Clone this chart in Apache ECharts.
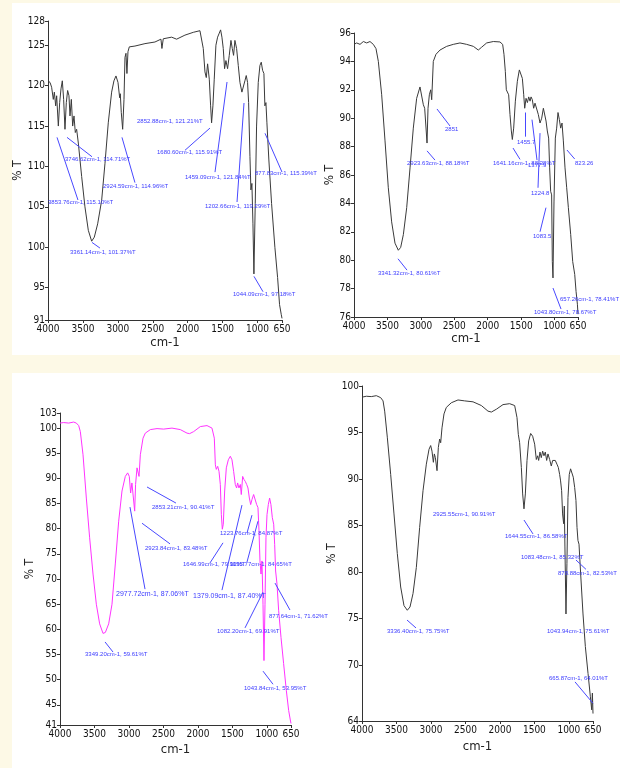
<!DOCTYPE html>
<html>
<head>
<meta charset="utf-8">
<script src="https://cdn.jsdelivr.net/npm/echarts@6/dist/echarts.min.js"></script>
<style>
  html, body { margin: 0; padding: 0; background: #fdf9e6; }
  .paper { position: absolute; background: #fff; }
  #main { position: absolute; left: 0; top: 0; width: 620px; height: 768px; }
</style>
</head>
<body>
<div class="paper" style="left:12px;top:3px;width:608px;height:352px"></div>
<div class="paper" style="left:12px;top:373px;width:608px;height:395px"></div>
<div id="main"></div>
<script>
// spectrum 1 (top left)
var p1Wave = [4000,3971,3948,3924,3909,3890,3876,3852,3833,3814,3795,3776,3757,3738,3719,3700,3685,3666,3647,3628,3609,3590,3566,3518,3471,3423,3375,3337,3289,3232,3184,3137,3089,3056,3027,2998,2974,2965,2951,2931,2912,2898,2884,2870,2855,2836,2755,2612,2469,2383,2369,2350,2230,2159,2040,1920,1825,1801,1777,1753,1734,1715,1691,1672,1658,1639,1620,1596,1572,1548,1529,1510,1491,1472,1453,1429,1405,1381,1362,1343,1324,1300,1276,1252,1224,1200,1181,1162,1143,1128,1109,1095,1081,1066,1052,1033,1014,990,966,947,928,909,895,880,866,838,799,752,713,685,661,650];
var p1T = [120.6,120.4,119.8,118.3,119.2,117.5,118.75,115,117.9,119.6,120.6,118.3,114.6,117.9,119.4,118.75,116.25,118.3,115,116.25,114.2,114.6,112.9,108.75,105,102.1,100.75,101.25,102.9,105.8,110.4,115.4,119.2,120.6,121.2,120.4,118.5,119,116.7,114.6,118.3,123.5,124,121.5,124.2,124.8,124.9,125.2,125.4,125.75,124.6,125.8,126,125.75,126.25,126.6,126.8,126.7,124.6,121.7,121,122.7,120.8,117.5,115.4,117.5,120.8,125,126,126.5,126.9,126,124.6,122.1,123.1,122.1,123.75,125.6,124.6,123.75,125.6,124.6,122.5,120.4,119.2,119.4,120.6,121.25,120.4,117.9,111.25,107.1,107.9,102.9,96.7,105.4,115,120.4,122.5,122.9,121.9,121.5,117.5,117.9,115.4,110.8,105.4,100,96.25,92.9,91.7,91.2];
var p1Ticks = [91,95,100,105,110,115,120,125,128];

// spectrum 2 (top right)
var p2Wave = [4000,3960,3910,3860,3810,3761,3711,3671,3636,3586,3536,3487,3437,3387,3337,3302,3262,3212,3162,3113,3063,3013,2988,2963,2943,2923,2908,2893,2873,2853,2838,2814,2774,2714,2614,2515,2415,2315,2215,2141,2091,2016,1916,1817,1777,1757,1737,1722,1707,1687,1667,1647,1632,1612,1587,1557,1527,1502,1482,1462,1447,1427,1407,1387,1367,1352,1333,1313,1293,1268,1243,1218,1193,1168,1143,1128,1109,1089,1074,1059,1044,1034,1024,1009,989,969,949,929,909,889,869,844,819,794,759,729,699,679,659,650];
var p2T = [95.2,95.3,95.2,95.4,95.3,95.4,95.2,94.9,94,91.65,88.4,85.1,82.7,81.2,80.7,80.9,81.8,83.7,86.5,89.3,91.4,92.2,92.1,90.95,90.7,90.8,88.25,90.7,91.65,92,91.3,94,94.5,94.8,95.06,95.2,95.3,95.2,95.06,94.8,95,95.3,95.4,95.37,95.2,94.5,93.3,92,92.1,91.65,90.25,89.1,88.5,89.3,91.2,92.6,93.4,93.5,92.8,91.65,90.7,91.4,91.1,91.5,91.2,91.5,91.3,90.7,91.06,90.95,90.25,89.66,90,90.7,90.7,89.8,89.1,88.6,86.5,84.85,84.6,79.9,78.75,84.1,88.6,89.3,90.4,89.9,89.3,89.66,88.4,86.5,85.1,83.7,81.8,79.9,79,77.8,76.9,76.2];
var p2Ticks = [76,78,80,82,84,86,88,90,92,94,96];

// spectrum 3 (bottom left, magenta)
var p3Wave = [4000,3947,3874,3802,3763,3729,3705,3666,3618,3570,3521,3473,3425,3376,3342,3294,3246,3198,3149,3101,3053,3019,2995,2976,2957,2938,2917,2904,2883,2869,2854,2835,2796,2763,2690,2593,2497,2376,2255,2158,2120,2062,1965,1868,1796,1762,1747,1733,1713,1694,1675,1660,1646,1632,1612,1588,1559,1530,1506,1482,1458,1439,1424,1405,1385,1371,1351,1332,1313,1293,1274,1254,1235,1216,1192,1168,1148,1129,1114,1100,1085,1071,1056,1042,1027,1013,998,979,960,941,921,901,887,873,853,829,795,757,718,684,660,650];
var p3T = [101,101.1,101,101.2,101,100.5,99.3,94.7,86.1,78.2,71,65,61.1,59.2,59.4,61.1,65,73,81.5,87.5,90.4,91.1,90.4,87.1,89.1,88.8,83.5,88.8,92.1,92.4,90.4,94.7,98,99,99.7,99.9,99.8,100,99.7,99,98.9,99.3,100.3,100.5,100,98,92.7,91.8,92.4,91.4,88.8,82.8,79.9,80.9,87.5,92.1,93.7,94.4,93.7,91.4,88.8,88.1,89.1,88.1,88.8,86.8,90.4,89.8,89.4,88.8,88.1,86.1,84.8,85.8,86.8,86.5,84.8,84.2,79.6,73.6,71,73.6,65,53.8,65,78.2,82.8,84.8,86.1,84.8,82.2,80.9,76.9,71.6,69,63.7,58.4,53.2,47.9,43.9,42,41.3];
var p3Ticks = [41,45,50,55,60,65,70,75,80,85,90,95,100,103];

// spectrum 4 (bottom right)
var p4Wave = [4000,3937,3865,3792,3729,3695,3671,3633,3584,3536,3488,3439,3391,3343,3304,3260,3212,3164,3115,3067,3028,3004,2985,2965,2951,2936,2912,2893,2874,2859,2840,2811,2777,2705,2608,2511,2390,2269,2173,2124,2052,1955,1859,1786,1752,1733,1714,1689,1670,1651,1631,1607,1583,1554,1525,1496,1472,1453,1438,1419,1400,1380,1361,1342,1322,1303,1279,1255,1235,1216,1197,1173,1153,1134,1120,1105,1091,1076,1066,1057,1042,1028,1013,994,975,955,936,916,897,882,868,853,829,795,761,722,688,669,659,650];
var p4T = [98.8,98.9,98.86,98.96,98.75,98.4,97.3,94.5,90.5,86.25,82,78.4,76.4,75.9,76.25,77.7,80.5,84.8,88.75,91.6,93.2,93.6,93,91.8,92.7,92.3,90.9,93.4,94.3,93.9,95.5,97,97.7,98.2,98.5,98.4,98.3,97.9,97.3,97.2,97.5,98,98.1,97.9,96.6,94.8,93.9,91.25,88.4,86.8,88.4,92,94.1,94.9,94.6,93.75,92.1,92.5,92,92.9,92.3,93,92.5,92.9,92,92.7,92.1,91.4,92,92.1,92,91.6,91.25,90.5,89.8,88.75,86.25,85.2,87.1,82.7,75.5,80.9,88,90.5,91.1,90.9,90.2,89.1,87.7,84.8,83.4,83,79.8,75.5,72,69.1,66.6,65.2,67,64.8];
var p4Ticks = [64,65,70,75,80,85,90,95,100];

var waveTicks = [4000,3500,3000,2500,2000,1500,1000,650];

// peak notes: text, anchor, leader line
var p1Notes = [
  {t: '3853.76cm-1, 115.10%T', at: [4000, 105.5], from: [3871, 113.6], to: [3571, 105.85]},
  {t: '3746.62cm-1, 114.71%T', at: [3757, 110.9], from: [3728, 113.6], to: [3370, 111.2]},
  {t: '2924.59cm-1, 114.96%T', at: [3213, 107.5], from: [2941, 113.6], to: [2755, 108]},
  {t: '3361.14cm-1, 101.37%T', at: [3685, 99.4], from: [3370, 100.6], to: [3256, 99.9]},
  {t: '2852.88cm-1, 121.21%T', at: [2726, 115.6]},
  {t: '1680.60cm-1, 115.91%T', at: [2440, 111.8], from: [1681, 114.75], to: [2039, 112]},
  {t: '1459.09cm-1, 121.84%T', at: [2039, 108.6], from: [1437, 120.45], to: [1609, 109.3]},
  {t: '1202.66cm-1, 119.29%T', at: [1752, 105.1], from: [1194, 117.85], to: [1294, 105.6]},
  {t: '877.83cm-1, 115.39%T', at: [1037, 109.2], from: [893, 114.1], to: [650, 109.3]},
  {t: '1044.09cm-1, 97.18%T', at: [1352, 94.2], from: [1051, 96.4], to: [922, 94.5]}
];
var p2Notes = [
  {t: '2923.63cm-1, 88.18%T', at: [3207, 86.85], from: [2908, 87.7], to: [2789, 87.05]},
  {t: '2851', at: [2639, 89.24], from: [2759, 90.65], to: [2564, 89.45]},
  {t: '3341.32cm-1, 80.61%T', at: [3641, 79.1], from: [3342, 80.1], to: [3207, 79.3]},
  {t: '1641.16cm-1, 88.38%T', at: [1921, 86.85], from: [1622, 87.9], to: [1517, 87.1]},
  {t: '1455.7', at: [1562, 88.3], from: [1443, 90.4], to: [1443, 88.7]},
  {t: '1377.9', at: [1398, 86.7], from: [1338, 89.9], to: [1263, 87.05]},
  {t: '1224.8', at: [1353, 84.7], from: [1218, 88.95], to: [1248, 85.1]},
  {t: '1083.5', at: [1323, 81.7], from: [1129, 83.7], to: [1218, 82]},
  {t: '1043.80cm-1, 78.67%T', at: [1308, 76.3], from: [1024, 78.04], to: [904, 76.56]},
  {t: '657.26cm-1, 78.41%T', at: [919, 77.27]},
  {t: '823.26', at: [695, 86.85], from: [815, 87.76], to: [700, 87.13]}
];
var p3Notes = [
  {t: '2853.21cm-1, 90.41%T', at: [2666, 84.3], from: [2738, 88.3], to: [2318, 85.1]},
  {t: '2923.84cm-1, 83.48%T', at: [2767, 76.2], from: [2811, 81.1], to: [2405, 77]},
  {t: '2977.72cm-1, 87.06%T', at: [3188, 67.0], from: [2985, 84.3], to: [2767, 68], big: true},
  {t: '3349.20cm-1, 59.61%T', at: [3637, 55.1], from: [3347, 57.5], to: [3231, 55.5]},
  {t: '1646.99cm-1, 79.90%T', at: [2216, 73], from: [1636, 77.2], to: [1825, 73.2]},
  {t: '1223.76cm-1, 84.87%T', at: [1680, 79], from: [1216, 82.7], to: [1288, 79.15]},
  {t: '1379.09cm-1, 87.40%T', at: [2071, 66.6], from: [1361, 84.7], to: [1651, 67.8], big: true},
  {t: '1155.77cm-1, 84.65%T', at: [1535, 73], from: [1129, 81.5], to: [1288, 73.4]},
  {t: '1082.20cm-1, 69.91%T', at: [1723, 59.7], from: [1056, 67.4], to: [1317, 60.3]},
  {t: '877.64cm-1, 71.62%T', at: [969, 62.65], from: [882, 69.2], to: [665, 63.85]},
  {t: '1043.84cm-1, 53.95%T', at: [1332, 48.35], from: [1056, 51.7], to: [911, 49.1]}
];
var p4Notes = [
  {t: '2925.55cm-1, 90.91%T', at: [2970, 86.25]},
  {t: '1644.55cm-1, 86.58%T', at: [1926, 83.8], from: [1651, 85.6], to: [1520, 84.1]},
  {t: '1083.48cm-1, 85.32%T', at: [1694, 81.6]},
  {t: '878.88cm-1, 82.53%T', at: [1158, 79.9], from: [897, 81.3], to: [752, 80.3]},
  {t: '3336.40cm-1, 75.75%T', at: [3637, 73.6], from: [3347, 74.85], to: [3217, 74]},
  {t: '1043.94cm-1, 75.61%T', at: [1317, 73.6]},
  {t: '665.87cm-1, 64.01%T', at: [1288, 68.6], from: [911, 68.2], to: [650, 65.9]}
];

var tickFont = "'Liberation Sans Narrow', 'DejaVu Sans Condensed', 'Liberation Sans', sans-serif";
var noteBlue = '#3c3cff';

var panels = [
  {grid: {left: 48, top: 21, width: 234, height: 299}, wave: p1Wave, t: p1T, ticks: p1Ticks, notes: p1Notes, color: '#3a3a3a', xGap: 16, yGap: 21},
  {grid: {left: 354, top: 33, width: 224, height: 284}, wave: p2Wave, t: p2T, ticks: p2Ticks, notes: p2Notes, color: '#3a3a3a', xGap: 15, yGap: 17},
  {grid: {left: 60, top: 413, width: 231, height: 312}, wave: p3Wave, t: p3T, ticks: p3Ticks, notes: p3Notes, color: '#ff33ff', xGap: 18, yGap: 20},
  {grid: {left: 362, top: 386, width: 231, height: 335}, wave: p4Wave, t: p4T, ticks: p4Ticks, notes: p4Notes, color: '#3a3a3a', xGap: 19, yGap: 21}
];

var myChart = echarts.init(document.getElementById('main'), null, {renderer: 'canvas'});
var option = {
  animation: false,
  backgroundColor: 'transparent',
  grid: [],
  xAxis: [],
  yAxis: [],
  series: []
};

function plain(v) { return String(v); }

panels.forEach(function (p, i) {
  option.grid.push(p.grid);
  option.xAxis.push({
    type: 'value', gridIndex: i, min: 650, max: 4000, inverse: true,
    name: 'cm-1', nameLocation: 'middle', nameGap: p.xGap,
    nameTextStyle: {fontFamily: tickFont, fontSize: 13, color: '#222'},
    axisLine: {lineStyle: {color: '#333', width: 1}},
    axisTick: {length: 3, customValues: waveTicks, lineStyle: {color: '#333'}},
    axisLabel: {customValues: waveTicks, formatter: plain, fontFamily: tickFont, fontSize: 10, color: '#111', margin: 4,
      showMinLabel: true, showMaxLabel: true},
    splitLine: {show: false}
  });
  option.yAxis.push({
    type: 'value', gridIndex: i, min: p.ticks[0], max: p.ticks[p.ticks.length - 1],
    name: '% T', nameLocation: 'middle', nameGap: p.yGap, nameRotate: 90,
    nameTextStyle: {fontFamily: tickFont, fontSize: 12, color: '#222'},
    axisLine: {show: true, lineStyle: {color: '#333', width: 1}},
    axisTick: {show: true, length: 3, customValues: p.ticks, lineStyle: {color: '#333'}},
    axisLabel: {customValues: p.ticks, formatter: plain, fontFamily: tickFont, fontSize: 10, color: '#111', margin: 3,
      showMinLabel: true, showMaxLabel: true, hideOverlap: false},
    splitLine: {show: false}
  });
  option.series.push({
    type: 'line', xAxisIndex: i, yAxisIndex: i,
    data: p.wave.map(function (w, k) { return [w, p.t[k]]; }),
    symbol: 'none', silent: true,
    lineStyle: {color: p.color, width: 1},
    itemStyle: {color: p.color},
    markPoint: {
      symbol: 'circle', symbolSize: 0, silent: true,
      label: {show: true, position: 'right', distance: 0, formatter: '{b}',
        color: noteBlue, fontSize: 6, fontFamily: "'Liberation Sans', sans-serif"},
      data: p.notes.map(function (n) {
        var d = {name: n.t, coord: n.at};
        if (n.big) d.label = {fontSize: 7};
        return d;
      })
    },
    markLine: {
      symbol: ['none', 'none'], silent: true,
      label: {show: false},
      lineStyle: {color: '#4848ff', width: 1, type: 'solid'},
      data: p.notes.filter(function (n) { return n.from; }).map(function (n) {
        return [{coord: n.from}, {coord: n.to}];
      })
    }
  });
});

option && myChart.setOption(option);
</script>
</body>
</html>
